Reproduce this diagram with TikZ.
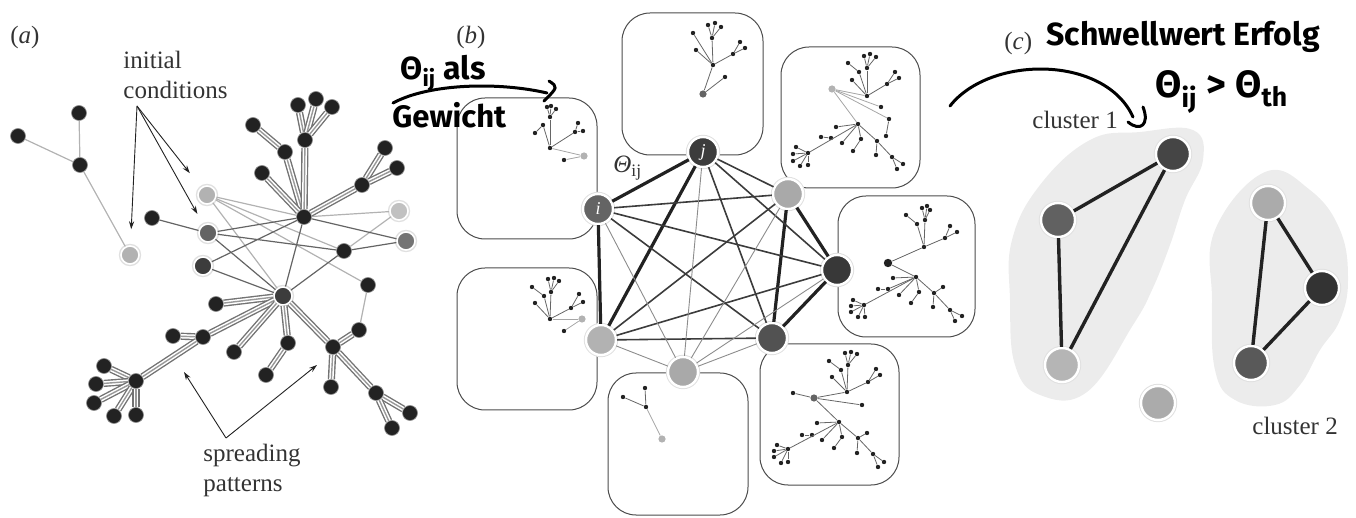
\documentclass[tikz,border=0pt]{standalone}
\usepackage{fontspec}
\setmainfont{Liberation Serif}
\newfontfamily\handfont{Fira Sans}
\usepackage{tikz}
\usetikzlibrary{arrows.meta,calc,positioning}
\definecolor{ink}{RGB}{34,34,34}
\definecolor{dark}{RGB}{60,60,60}
\definecolor{mid}{RGB}{100,100,100}
\definecolor{pale}{RGB}{178,178,178}
\definecolor{blob}{RGB}{236,236,236}
\definecolor{label}{RGB}{51,51,51}

\begin{document}
\begin{tikzpicture}[x=0.5pt, y=-0.5pt,
  every node/.style={font=\fontsize{12.5}{15}\selectfont, text=label},
  lbl/.style={inner sep=0pt, align=left, anchor=base west},
  glow/.style={preaction={draw=black!12, line width=2.2pt}},
  dot/.style={circle, fill=ink, draw=black!45, line width=0.3pt, inner sep=0pt, minimum size=7.5pt},
  seed/.style={circle, draw=white, line width=0.8pt, inner sep=0pt, minimum size=9pt, glow},
  pipe/.style={draw=black!55, line width=3.6pt, postaction={draw=white, line width=2.2pt}, postaction={draw=black!40, line width=0.7pt}},
  wire/.style={draw=mid, line width=0.6pt},
  thinwire/.style={draw=pale, line width=0.6pt},
  note/.style={-{Stealth[length=4pt, width=2.6pt]}, draw=ink, line width=0.45pt},
  box/.style={draw=black!70, line width=0.5pt, rounded corners=14pt, inner sep=0pt},
  twig/.style={draw=black!60, line width=0.4pt},
  paletwig/.style={draw=black!35, line width=0.4pt},
  tip/.style={circle, fill=ink, inner sep=0pt, minimum size=2.2pt},
  root/.style={circle, inner sep=0pt, minimum size=3.6pt},
  big/.style={circle, draw=white, line width=1.2pt, inner sep=0pt, minimum size=15pt, glow, text=white, font=\fontsize{9}{9}\selectfont\itshape},
  heavy/.style={draw=ink, line width=1.6pt},
  medium/.style={draw=dark, line width=0.8pt},
  light/.style={draw=black!45, line width=0.45pt},
  clu/.style={circle, draw=white, line width=1.2pt, inner sep=0pt, minimum size=17pt, glow},
  link/.style={draw=ink, line width=1.7pt},
  pen/.style={draw=black, line width=1.5pt, line cap=round, line join=round},
  hand/.style={font=\fontsize{15}{15}\selectfont\handfont\bfseries, text=black, inner sep=0pt, anchor=base west}]
  \useasboundingbox (0,0) rectangle (1356,518);

  % (a) spreading on the network
  \node[lbl] (lba) at (10,44) {(\textit{a})};
  \node[lbl, anchor=north west] (ictext) at (123,51) {initial\\conditions};
  \node[lbl, anchor=north west] (sptext) at (203,444) {spreading\\patterns};

  \foreach \n/\x/\y in {a1/79/113, a2/18/136, a3/80/165, b1/152/218, b2/344/251, b3/368/285, b4/359/330, h1/304/217,
      u1/253/125, u2/285/152, u3/305/140, u4/298/105, u5/316/99, u6/332/107, u7/262/173, u8/362/185, u9/385/148, u10/397/168,
      l1/216/304, l2/203/337, l3/173/336, l4/136/381, l5/104/366, l6/96/384, l7/94/403, l8/114/416, l9/136/415,
      l10/234/352, l11/288/343, l12/266/375, l13/333/347, l14/331/387, l15/376/393, l16/410/413, l17/392/428}
    \node[dot] (\n) at (\x,\y) {};
  \node[seed, fill=pale] (s1) at (130,255) {};
  \node[seed, fill=pale] (s2) at (207,195) {};
  \node[seed, fill=mid] (s3) at (208,233) {};
  \node[seed, fill=dark] (s4) at (203,266) {};
  \node[seed, fill=pale!80] (s5) at (399,211) {};
  \node[seed, fill=mid!90] (s6) at (406,241) {};
  \node[seed, fill=dark] (h2) at (283,296) {};

  \foreach \u/\v in {a2/a3, a1/a3, a3/s1, s2/h1, s2/b2, s2/b3, s2/h2, h1/s5, b2/s5, b3/b4}
    \draw[thinwire] (\u) -- (\v);
  \foreach \u/\v in {b1/s3, s3/h1, s3/b2, s3/h2, s4/h1, s4/h2, h1/h2, h1/s6, b2/s6, h2/b2}
    \draw[wire] (\u) -- (\v);
  \foreach \u/\v in {h1/u2, u2/u1, h1/u3, u3/u4, u3/u5, u3/u6, h1/u7, h1/u8, u8/u9, u8/u10,
      h2/l1, h2/l2, l2/l3, l2/l4, l4/l5, l4/l6, l4/l7, l4/l8, l4/l9, h2/l10, h2/l11, l11/l12,
      h2/l13, l13/l14, l13/b4, l13/l15, l15/l16, l15/l17}
    \draw[pipe] (\u) -- (\v);

  \coordinate (icfoot) at (137,106);
  \draw[note, shorten >=8pt] (icfoot) -- (s1);
  \draw[note, shorten >=9pt] (icfoot) -- (s2);
  \draw[note, shorten >=6pt] (icfoot) -- (s3);
  \coordinate (spfoot) at (226,438);
  \coordinate (sp1) at (184,372);
  \coordinate (sp2) at (317,365);
  \draw[note] (spfoot) -- (sp1);
  \draw[note] (spfoot) -- (sp2);

  % (b) similarity network of the patterns
  \node[lbl] (lbb) at (456,44) {(\textit{b})};
  \node[box, minimum width=70.5pt, minimum height=71pt] (bxt) at (692.5,84) {};
  \node[box, minimum width=70pt, minimum height=70.5pt] (bxlt) at (527,168.5) {};
  \node[box, minimum width=69.5pt, minimum height=70.5pt] (bxrt) at (850.5,117.5) {};
  \node[box, minimum width=68.5pt, minimum height=70.5pt] (bxrm) at (906.5,266.5) {};
  \node[box, minimum width=70pt, minimum height=71pt] (bxlb) at (527,339) {};
  \node[box, minimum width=70pt, minimum height=71pt] (bxb) at (678,444) {};
  \node[box, minimum width=69.5pt, minimum height=70.5pt] (bxrb) at (829.5,414.5) {};

  % small trees
  \node[root, fill=mid] (t0) at (703,94) {};
  \node[root, fill=pale] (p0) at (584,156) {};
  \node[root, fill=pale] (q0) at (582,319) {};
  \node[root, fill=pale] (w0) at (662,439) {};
  \node[root, fill=pale] (r0) at (832,89) {};
  \node[root, fill=ink, minimum size=4.2pt] (m0) at (888,263) {};
  \node[root, fill=mid] (k0) at (814,398) {};
  \foreach \n/\x/\y in {t1/713/65, t2/725/77, t3/696/50, t4/693/33, t5/733/54, t6/740/42, t7/745/48, t8/712/38, t9/708/25, t10/715/23, t11/721/27,
      p1/550/148, p2/564/160, p3/550/117, p4/547/107, p5/551/106, p6/556/109, p7/543/125, p8/535/133, p9/575/132, p10/578/123, p11/583/131,
      q1/550/319, q2/564/331, q3/551/292, q4/548/279, q5/554/278, q6/559/281, q7/544/296, q8/532/287, q9/535/303, q10/571/308, q11/579/294, q12/583/302,
      w1/646/407, w2/645/388, w3/623/397,
      r1/867/96, r2/881/107, r3/889/119, r4/886/136, r5/858/124, r6/867/68, r7/864/56, r8/870/54, r9/876/57, r10/859/72, r11/848/63,
      r12/852/80, r13/887/84, r14/895/72, r15/899/78, r16/836/127, r17/842/143, r18/831/138, r19/821/137, r20/808/153,
      r21/796/147, r22/793/154, r23/793/161, r24/800/166, r25/808/165, r26/861/139, r27/853/151, r28/877/141, r29/876/155,
      r30/892/157, r31/903/164, r32/897/169,
      m1/924/247, m2/925/220, m3/922/208, m4/927/206, m5/930/210, m6/917/224, m7/906/215, m8/945/238, m9/950/226, m10/957/232,
      m11/916/277, m12/893/278, m13/888/289, m14/878/289, m15/864/305, m16/853/300, m17/851/306, m18/851/312, m19/858/317,
      m20/865/317, m21/899/295, m22/919/292, m23/911/303, m24/934/293, m25/943/287, m26/933/307, m27/950/310, m28/962/316, m29/955/321,
      k1/793/393, k2/847/392, k3/848/365, k4/845/353, k5/851/352, k6/857/354, k7/841/370, k8/829/361, k9/832/377, k10/868/382,
      k11/876/369, k12/880/375, k13/862/405, k14/839/422, k15/817/423, k16/812/435, k17/802/435, k18/788/449, k19/777/445,
      k20/774/451, k21/774/457, k22/781/463, k23/788/462, k24/822/440, k25/842/437, k26/834/448, k27/858/438, k28/867/433,
      k29/857/453, k30/873/454, k31/884/462, k32/878/467}
    \node[tip] (\n) at (\x,\y) {};
  \foreach \u/\v in {p0/p1, p0/p2, q0/q1, q0/q2, w0/w1, r0/r1, r0/r2, r0/r3, r0/r5}
    \draw[paletwig] (\u) -- (\v);
  \foreach \u/\v in {t0/t1, t0/t2, t1/t3, t1/t4, t1/t5, t5/t6, t5/t7, t1/t8, t8/t9, t8/t10, t8/t11,
      p1/p3, p3/p4, p3/p5, p3/p6, p1/p7, p7/p8, p1/p9, p9/p10, p9/p11,
      q1/q3, q3/q4, q3/q5, q3/q6, q1/q7, q7/q8, q1/q9, q1/q10, q10/q11, q10/q12,
      w1/w2, w1/w3,
      r3/r4, r1/r6, r6/r7, r6/r8, r6/r9, r1/r10, r10/r11, r1/r12, r1/r13, r13/r14, r13/r15,
      r5/r16, r5/r17, r5/r20, r18/r19, r20/r21, r20/r22, r20/r23, r20/r24, r20/r25, r5/r26, r26/r27,
      r5/r28, r28/r29, r28/r30, r30/r31, r30/r32,
      m0/m1, m1/m2, m2/m3, m2/m4, m2/m5, m1/m6, m6/m7, m1/m8, m8/m9, m8/m10, m0/m11, m11/m12, m11/m15, m11/m13, m13/m14,
      m15/m16, m15/m17, m15/m18, m15/m19, m15/m20, m11/m21, m11/m22, m22/m23, m11/m24, m24/m25, m24/m26, m24/m27, m27/m28, m27/m29,
      k0/k1, k0/k2, k2/k3, k3/k4, k3/k5, k3/k6, k2/k7, k7/k8, k2/k9, k2/k10, k10/k11, k10/k12, k0/k13, k0/k14, k14/k15,
      k14/k18, k16/k17, k18/k19, k18/k20, k18/k21, k18/k22, k18/k23, k14/k24, k14/k25, k25/k26, k14/k27, k27/k28, k27/k29,
      k27/k30, k30/k31, k30/k32}
    \draw[twig] (\u) -- (\v);

  \node[big, fill=mid] (ni) at (598,209) {i};
  \node[big, fill=dark] (nj) at (703,152) {j};
  \node[big, fill=pale!95!black] (nA) at (788,194) {};
  \node[big, fill=ink!90!white] (nB) at (837,270) {};
  \node[big, fill=black!68] (nC) at (772,338) {};
  \node[big, fill=pale!95!black] (nD) at (683,372) {};
  \node[big, fill=pale] (nE) at (601,340) {};
  \foreach \u/\v in {ni/nj, ni/nE, nj/nE, nA/nB, nA/nC, nB/nC}
    \draw[heavy] (\u) -- (\v);
  \foreach \u/\v in {ni/nA, ni/nB, ni/nC, nj/nA, nj/nB, nj/nC, nA/nE, nB/nE, nC/nE}
    \draw[medium] (\u) -- (\v);
  \foreach \u/\v in {ni/nD, nj/nD, nA/nD, nB/nD, nC/nD, nE/nD}
    \draw[light] (\u) -- (\v);
  \node[lbl] (theta) at (613,173) {\textit{Θ}\textsubscript{ij}};

  % (c) clusters above the threshold
  \node[lbl] (lbc) at (1004,50) {(\textit{c})};
  \fill[blob] plot[smooth cycle, tension=0.7] coordinates {(1012,240) (1010,300) (1015,365) (1040,395) (1087,392) (1133,325)
      (1152,290) (1170,245) (1185,200) (1203,160) (1193,130) (1140,132) (1090,140) (1040,185)};
  \fill[blob] plot[smooth cycle, tension=0.7] coordinates {(1215,230) (1212,300) (1215,370) (1235,400) (1275,405) (1300,385)
      (1320,350) (1340,320) (1348,280) (1340,230) (1310,190) (1265,172)};
  \node[clu, fill=black!73] (c1) at (1173,154) {};
  \node[clu, fill=black!62] (c2) at (1058,220) {};
  \node[clu, fill=black!29] (c3) at (1062,365) {};
  \node[clu, fill=black!33] (c4) at (1268,203) {};
  \node[clu, fill=black!80] (c5) at (1322,288) {};
  \node[clu, fill=black!65] (c6) at (1251,363) {};
  \node[clu, fill=black!33] (c7) at (1158,403) {};
  \foreach \u/\v in {c1/c2, c1/c3, c2/c3, c4/c5, c4/c6, c5/c6}
    \draw[link] (\u) -- (\v);
  \node[lbl] (cl1) at (1032,129) {cluster 1};
  \node[lbl] (cl2) at (1252,435) {cluster 2};

  % handwritten notes
  \node[hand, font=\fontsize{16}{16}\selectfont\handfont\bfseries] (hw1) at (400,80) {Θ\textsubscript{ij} als};
  \node[hand, font=\fontsize{15.5}{15.5}\selectfont\handfont\bfseries] (hw2) at (392,128) {Gewicht};
  \node[hand, font=\fontsize{16}{16}\selectfont\handfont\bfseries] (hw3) at (1046,46) {Schwellwert Erfolg};
  \node[hand, font=\fontsize{19}{19}\selectfont\handfont\bfseries] (hw4) at (1155,98) {Θ\textsubscript{ij} > Θ\textsubscript{th}};
  \coordinate (pa1) at (393,103);
  \coordinate (pa2) at (547,93);
  \draw[pen] (pa1) .. controls (430,83) and (500,82) .. (pa2);
  \draw[pen] (549,81) .. controls (558,87) .. (544,101);
  \coordinate (pc1) at (950,106);
  \coordinate (pc2) at (1133,117);
  \draw[pen] (pc1) .. controls (990,55) and (1105,55) .. (pc2);
  \draw[pen] (1143,107) .. controls (1150,125) and (1140,132) .. (1128,122);
\end{tikzpicture}
\end{document}
